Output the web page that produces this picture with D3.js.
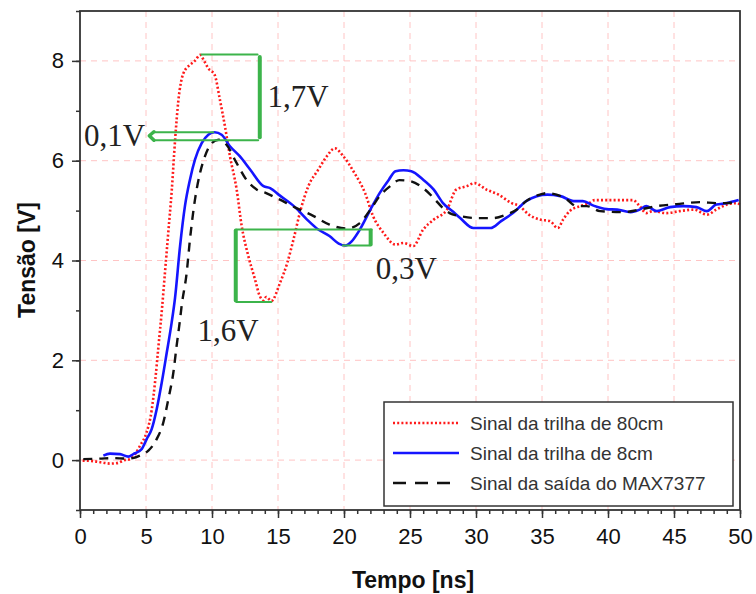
<!DOCTYPE html>
<html>
<head>
<meta charset="utf-8">
<script src="https://cdn.jsdelivr.net/npm/d3@7"></script>
<style>
  body { margin: 0; background: #fff; }
  svg { display: block; font-family: "Liberation Sans", Arial, sans-serif; }
</style>
</head>
<body>
<script>
// sinal da trilha de 80cm  [t (ns), V]
var trilha80 = [[0.2,-0.01],[1.0,-0.02],[1.7,-0.05],[2.3,-0.07],[2.8,-0.06],[3.4,0],[3.8,0.02],[4.17,0.12],[4.55,0.29],[5.05,0.56],
  [5.43,1.0],[5.7,1.6],[5.95,2.3],[6.2,3.0],[6.45,3.8],[6.7,4.6],[6.95,5.4],[7.2,6.4],[7.45,7.2],[7.83,7.75],[8.33,7.92],
  [8.7,8.0],[9.1,8.12],[9.4,8.0],[9.72,7.85],[10.2,7.72],[10.6,7.22],[10.98,6.69],[11.36,6.09],[11.87,5.42],[12.25,4.69],
  [12.75,4.09],[13.26,3.62],[13.6,3.3],[13.9,3.2],[14.1,3.27],[14.5,3.19],[15.15,3.55],[15.7,3.95],[16.2,4.45],[16.7,5.0],
  [17.3,5.49],[18.05,5.82],[18.7,6.09],[19.3,6.25],[19.95,6.09],[20.8,5.75],[21.6,5.35],[22.2,4.89],[23.0,4.55],[23.9,4.32],
  [24.5,4.35],[25.25,4.29],[26.0,4.62],[26.8,4.82],[27.8,5.02],[28.5,5.42],[29.3,5.49],[29.9,5.55],[30.8,5.42],[31.7,5.32],
  [32.7,5.15],[33.3,5.09],[34.0,4.92],[34.85,4.82],[35.6,4.79],[36.2,4.65],[36.6,4.82],[37.1,4.99],[37.9,5.09],[38.5,5.14],
  [39.0,5.21],[41.9,5.21],[42.4,5.09],[42.9,4.95],[43.4,4.99],[44.4,4.95],[45.45,4.99],[46.5,5.02],[47.5,4.92],[48.2,5.02],
  [49.0,5.12],[49.75,5.15],[50,5.12]]

// sinal da trilha de 8cm
var trilha8 = [[1.77,0.09],[2.27,0.13],[3.03,0.12],[3.66,0.07],[4.04,0.12],[4.67,0.22],[5.05,0.42],[5.43,0.62],[5.81,1.02],
  [6.19,1.55],[6.57,2.15],[6.94,2.75],[7.2,3.25],[7.58,4.29],[7.95,5.09],[8.33,5.62],[8.71,6.02],[9.22,6.35],[9.72,6.52],
  [10.2,6.57],[10.73,6.52],[11.36,6.29],[12.1,6.09],[12.9,5.82],[13.9,5.49],[14.4,5.45],[15.15,5.3],[16.2,5.09],[17.2,4.82],
  [18.05,4.62],[18.9,4.49],[19.6,4.34],[20.1,4.3],[20.6,4.39],[21.2,4.62],[22.0,5.02],[22.7,5.35],[23.4,5.62],[23.9,5.79],
  [24.5,5.81],[25.1,5.79],[26.0,5.62],[26.8,5.42],[27.5,5.15],[28.2,4.99],[28.8,4.85],[29.8,4.65],[31.1,4.65],[31.9,4.79],
  [32.8,4.95],[33.8,5.19],[34.6,5.29],[35.4,5.32],[36.4,5.29],[37.4,5.19],[38.1,5.19],[38.9,5.1],[39.9,5.03],[40.7,5.02],
  [41.7,4.97],[42.4,5.02],[42.9,5.09],[43.7,4.99],[44.7,5.07],[45.7,5.09],[46.7,5.07],[47.5,4.99],[48.2,5.12],[49.0,5.15],
  [49.9,5.21]]

// sinal da saida do MAX7377
var saidaMax = [[0.25,0.02],[1.5,0.03],[2.5,0.04],[3.5,0.03],[4.0,0.04],[4.55,0.09],[5.18,0.19],[5.81,0.42],[6.31,0.75],
  [6.69,1.22],[7.07,1.75],[7.32,2.29],[7.58,2.82],[7.7,3.09],[8.08,3.75],[8.33,4.42],[8.71,5.22],[9.09,5.75],[9.47,6.09],
  [9.97,6.35],[10.5,6.42],[11.1,6.32],[11.87,5.95],[12.6,5.62],[13.4,5.42],[14.1,5.35],[14.9,5.25],[16.4,5.05],[17.7,4.89],
  [18.9,4.72],[20.2,4.64],[21.2,4.75],[22.0,5.02],[22.7,5.29],[23.5,5.49],[24.2,5.61],[25.0,5.59],[26.0,5.45],[26.8,5.25],
  [27.5,5.05],[28.0,4.95],[28.8,4.89],[30.0,4.85],[31.3,4.85],[32.3,4.92],[33.1,5.02],[33.8,5.19],[34.85,5.32],[35.4,5.35],
  [36.1,5.32],[36.9,5.22],[37.6,5.09],[38.4,5.09],[39.4,4.99],[41.2,4.97],[42.4,5.02],[43.7,5.09],[45.2,5.13],[47.0,5.17],
  [48.2,5.15],[49.0,5.15],[49.9,5.19]]

var xTicks = [0,5,10,15,20,25,30,35,40,45,50]
var yTicks = [0,2,4,6,8]
var legendNames = ["Sinal da trilha de 80cm","Sinal da trilha de 8cm","Sinal da saída do MAX7377"]

// colchetes verdes (ns, V)
var colchete17 = [[[9.2,8.13],[13.45,8.13]],[[13.5,6.41],[5.6,6.41]],[[5.6,6.57],[10.1,6.57]]]
var colchete16 = [[[11.85,4.62],[22.1,4.62]],[[11.85,3.17],[14.5,3.17]],[[19.9,4.3],[21.95,4.3]]]
var barras = [[[13.62,8.08],[13.62,6.47]],[[11.8,4.6],[11.8,3.2]],[[22.02,4.6],[22.02,4.32]]]
var seta01 = [[5.6,6.58],[5.25,6.5],[5.6,6.41]]
var rotulos = [{t:"1,7V",x:14.2,y:7.08},{t:"0,1V",x:0.3,y:6.3},{t:"1,6V",x:8.9,y:2.38},{t:"0,3V",x:22.4,y:3.62}]

var W = 756, H = 594
var L = 80, R = 740, T = 11, B = 510

var svg = d3.select("body").append("svg").attr("width",W).attr("height",H)
svg.append("rect").attr("width",W).attr("height",H).attr("fill","#fff")

var x = d3.scaleLinear().domain([0,50]).range([L,R])
var y = d3.scaleLinear().domain([-1,9]).range([B,T])

// grade
svg.append("g").selectAll("line").data(xTicks.slice(1,-1)).enter().append("line")
  .attr("x1",d => x(d)).attr("x2",d => x(d)).attr("y1",T).attr("y2",B)
  .attr("stroke","#ffc4c4").attr("stroke-width",1).attr("stroke-dasharray","6,5")
svg.append("g").selectAll("line").data(yTicks).enter().append("line")
  .attr("x1",L).attr("x2",R).attr("y1",d => y(d)).attr("y2",d => y(d))
  .attr("stroke","#ffc4c4").attr("stroke-width",1).attr("stroke-dasharray","6,5")

// curvas
var line = d3.line().x(d => x(d[0])).y(d => y(d[1])).curve(d3.curveMonotoneX)
var series = [
  {data:trilha80, color:"#ff1a1a", dash:"2,2.2", w:2.6},
  {data:trilha8, color:"#1515ff", dash:null, w:2.6},
  {data:saidaMax, color:"#111", dash:"9,7", w:2.4}
]
svg.append("g").selectAll("path").data(series).enter().append("path")
  .attr("d",d => line(d.data))
  .attr("fill","none")
  .attr("stroke",d => d.color)
  .attr("stroke-width",d => d.w)
  .attr("stroke-dasharray",d => d.dash)

// anotacoes
var g = svg.append("g").attr("stroke","#3cb44b").attr("fill","none").attr("stroke-linecap","round")
var aline = d3.line().x(d => x(d[0])).y(d => y(d[1]))
g.selectAll(".fino").data(colchete17.concat(colchete16)).enter().append("path")
  .attr("d",aline).attr("stroke-width",2)
g.selectAll(".grosso").data(barras).enter().append("path")
  .attr("d",aline).attr("stroke-width",4)
g.append("path").attr("d",aline(seta01)).attr("stroke-width",3.5).attr("stroke-linejoin","round")

svg.append("g").selectAll("text").data(rotulos).enter().append("text")
  .attr("x",d => x(d.x)).attr("y",d => y(d.y))
  .attr("font-family","'Liberation Serif', 'DejaVu Serif', serif")
  .attr("font-size",31).attr("fill","#222")
  .text(d => d.t)

// eixos
var xAxis = d3.axisBottom(x).tickValues(xTicks).tickSize(8).tickPadding(10)
var xMinor = d3.axisBottom(x).tickValues(d3.range(0,51,1)).tickSize(4).tickFormat("")
var yAxis = d3.axisLeft(y).tickValues(yTicks).tickSize(8).tickPadding(8)
var yMinor = d3.axisLeft(y).tickValues(d3.range(-1,10,1)).tickSize(4).tickFormat("")

function estilo(sel){
  sel.select(".domain").remove()
  sel.selectAll("line").attr("stroke","#333").attr("stroke-width",1.5)
  sel.selectAll("text").attr("font-size",22).attr("fill","#111").attr("font-family","'Liberation Sans', Arial, sans-serif")
}
svg.append("g").attr("transform","translate(0,"+B+")").call(xMinor).call(estilo)
svg.append("g").attr("transform","translate(0,"+B+")").call(xAxis).call(estilo)
svg.append("g").attr("transform","translate("+L+",0)").call(yMinor).call(estilo)
svg.append("g").attr("transform","translate("+L+",0)").call(yAxis).call(estilo)

svg.append("rect").attr("x",L).attr("y",T).attr("width",R-L).attr("height",B-T)
  .attr("fill","none").attr("stroke","#333").attr("stroke-width",1.8)

svg.append("text").text("Tempo [ns]").attr("x",413).attr("y",588)
  .attr("text-anchor","middle").attr("font-size",23).attr("font-weight","bold").attr("fill","#111")
svg.append("text").text("Tensão [V]").attr("transform","translate(35,260) rotate(-90)")
  .attr("text-anchor","middle").attr("font-size",23).attr("font-weight","bold").attr("fill","#111")

// legenda
var leg = svg.append("g")
leg.append("rect").attr("x",384).attr("y",402).attr("width",349).attr("height",104)
  .attr("fill","#fff").attr("stroke","#333").attr("stroke-width",1.5)
var items = leg.selectAll(".item").data(series).enter().append("g")
  .attr("transform",(d,i) => "translate(0,"+(423+i*30)+")")
items.append("line").attr("x1",393).attr("x2",459).attr("y1",0).attr("y2",0)
  .attr("stroke",d => d.color).attr("stroke-width",d => d.w)
  .attr("stroke-dasharray",(d,i) => i == 2 ? "13,9" : d.dash)
items.append("text").attr("x",470).attr("y",7).attr("font-size",19).attr("fill","#333")
  .text((d,i) => legendNames[i])
</script>
</body>
</html>
